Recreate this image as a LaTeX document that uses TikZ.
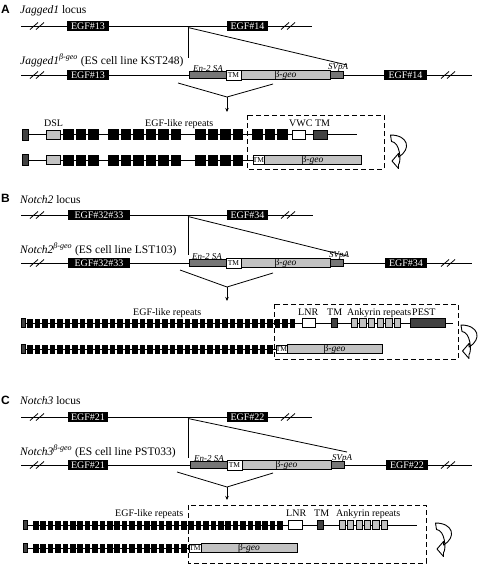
\documentclass[tikz,border=0pt]{standalone}
\usepackage{fontspec}
\setmainfont{Liberation Serif}
\setsansfont{Liberation Sans}
\usetikzlibrary{arrows.meta}
\definecolor{dkgray}{HTML}{424242}
\definecolor{mdgray}{HTML}{767676}
\definecolor{ltgray}{HTML}{C2C2C2}
\newcommand\gbox[7]{\node[#1, minimum width={(#4-#3)*1pt}, minimum height={#6*1pt}] (#2) at ({(#3+#4)/2},#5) {#7};}
\newcommand\brk[2]{\draw[brkline] (#1-7,#2+3.5) -- (#1+1,#2-3.5) (#1-1,#2+3.5) -- (#1+7,#2-3.5);}
\newcommand\reps[6]{\foreach \i in {1,...,#2} {\fill ({#1+(\i-1)*#3},{#5-#6/2}) rectangle ++(#4,#6);}}
\newcommand\curarrow[2]{\begin{scope}[shift={(#1,#2)}]
\draw[fill=white, line width=0.9pt, line join=round] (0.5,0) .. controls (18,0) and (22,14) .. (8.5,22) -- (8.5,18.5) -- (2,26) -- (8.5,33.5) -- (8.5,29.5) .. controls (11.5,26.5) and (10,7) .. (1.5,6.5) -- cycle;
\end{scope}}
\tikzset{
 gl/.style={line width=0.9pt},
 brkline/.style={line width=0.8pt},
 exon/.style={fill=black, text=white, inner sep=0pt, font=\fontsize{10}{10}\selectfont},
 sa/.style={fill=mdgray, draw=black, line width=0.5pt, inner sep=0pt},
 tmw/.style={fill=white, draw=black, line width=0.5pt, inner sep=0pt, font=\fontsize{7.5}{7.5}\selectfont},
 bgeo/.style={fill=ltgray, draw=black, line width=0.5pt, inner sep=0pt, font=\fontsize{9.5}{9.5}\selectfont},
 dk/.style={fill=dkgray, draw=black, line width=0.5pt, inner sep=0pt},
 wt/.style={fill=white, draw=black, line width=0.6pt, inner sep=0pt},
 lt/.style={fill=ltgray, draw=black, line width=0.5pt, inner sep=0pt},
 lab/.style={font=\fontsize{10}{10}\selectfont, inner sep=0pt, anchor=base west},
 ttl/.style={font=\fontsize{11.5}{11.5}\selectfont, inner sep=0pt, anchor=base west},
 letter/.style={font=\sffamily\bfseries\fontsize{12}{12}\selectfont, inner sep=0pt, anchor=base west},
 smallit/.style={font=\itshape\fontsize{9}{9}\selectfont, inner sep=0pt, anchor=base},
 dbox/.style={draw, dash pattern=on 5pt off 3pt, line width=0.8pt},
 vl/.style={line width=0.8pt},
 downarrow/.style={line width=0.8pt, -{Stealth[length=4pt,width=3.5pt]}},
}
\begin{document}
\begin{tikzpicture}[x=1pt,y=-1pt]
\useasboundingbox (0,0) rectangle (480,565);

%%%%%%%%%%%%%%%% PANEL A
\node[letter] (Alet) at (1,13) {A};
\node[ttl] (Atit) at (20,13) {\textit{Jagged1} locus};
\coordinate (A1s) at (21,26); \coordinate (A1e) at (312,26);
\draw[gl] (A1s) -- (A1e);
\brk{37}{26} \brk{288}{26}
\gbox{exon}{A13a}{67}{109}{26}{10}{EGF\#13}
\gbox{exon}{A14a}{227}{268}{26}{10}{EGF\#14}
\coordinate (Ains) at (188,27.5); \coordinate (Avt) at (188,58); \coordinate (Adg) at (347,65);
\draw[vl] (Ains) -- (Avt); \draw[vl] (Ains) -- (Adg);
\node[ttl] (Atit2) at (20,64) {\textit{Jagged1}\textsuperscript{\textit{β-geo}} (ES cell line KST248)};
\coordinate (A2s) at (21,75); \coordinate (A2e) at (472,75);
\draw[gl] (A2s) -- (A2e);
\brk{37}{75} \brk{448}{75}
\gbox{exon}{A13b}{67}{109}{75}{10}{EGF\#13}
\gbox{sa}{Asa}{189}{226}{75}{7}{}
\gbox{tmw}{Atm}{226}{241}{75}{10}{TM}
\gbox{bgeo}{Abg}{241}{330}{75}{9}{β-\textit{geo}}
\gbox{sa}{Asv}{330}{343}{75}{7}{}
\gbox{exon}{A14b}{384}{427}{75}{10}{EGF\#14}
\node[smallit] (Asal) at (208,71) {En-2 SA};
\node[smallit] (Asvl) at (338,69) {SVpA};
\coordinate (Avl) at (178,83); \coordinate (Avr) at (273,84); \coordinate (Avm) at (227,97); \coordinate (Avb) at (227,112);
\draw[vl] (Avl) -- (Avm) -- (Avr);
\draw[downarrow] (Avm) -- (Avb);
% protein rows
\node[lab, anchor=base] (Adsl) at (53.5,126) {DSL};
\node[lab] (Aegf) at (145,126) {EGF-like repeats};
\node[lab] (Avwc) at (289,126) {VWC TM};
\draw[gl] (28,134.5) -- (357,134.5);
\gbox{dk}{Ap1n}{22}{28}{134.5}{11}{}
\gbox{lt}{Ap1dsl}{46}{60}{134.5}{9}{}
\foreach \x in {63,75.5,88,108,120.5,133,145.5,158,170.5,195,207.5,220,232.5,252,264.5,277}
  \fill (\x,129) rectangle ++(10.5,11);
\gbox{wt}{Ap1vwc}{292}{305}{134.5}{9}{}
\gbox{dk}{Ap1tm}{313}{327}{134.5}{9}{}
\draw[gl] (28,160) -- (253,160);
\gbox{dk}{Ap2n}{22}{28}{160}{11}{}
\gbox{lt}{Ap2dsl}{46}{60}{160}{9}{}
\foreach \x in {63,75.5,88,108,120.5,133,145.5,158,170.5,195,207.5,220,232.5}
  \fill (\x,154.5) rectangle ++(10.5,11);
\gbox{tmw}{Ap2tm}{253}{264}{160}{9}{TM}
\gbox{bgeo}{Ap2bg}{264}{361}{160}{9}{β-\textit{geo}}
\draw[dbox] (247,115) rectangle (384,169);
\curarrow{390}{135}

%%%%%%%%%%%%%%%% PANEL B
\node[letter] (Blet) at (1,202) {B};
\node[ttl] (Btit) at (20,203) {\textit{Notch2} locus};
\coordinate (B1s) at (21,215); \coordinate (B1e) at (313,215);
\draw[gl] (B1s) -- (B1e);
\brk{37}{215} \brk{288}{215}
\gbox{exon}{B33a}{68}{130}{215}{10}{EGF\#32\#33}
\gbox{exon}{B34a}{227}{268}{215}{10}{EGF\#34}
\coordinate (Bins) at (188,216.5); \coordinate (Bvt) at (188,255); \coordinate (Bdg) at (347,256);
\draw[vl] (Bins) -- (Bvt); \draw[vl] (Bins) -- (Bdg);
\node[ttl] (Btit2) at (20,253) {\textit{Notch2}\textsuperscript{\textit{β-geo}} (ES cell line LST103)};
\coordinate (B2s) at (21,263); \coordinate (B2e) at (472,263);
\draw[gl] (B2s) -- (B2e);
\brk{37}{263} \brk{448}{263}
\gbox{exon}{B33b}{68}{130}{263}{10}{EGF\#32\#33}
\gbox{sa}{Bsa}{189}{226}{263}{7}{}
\gbox{tmw}{Btm}{226}{241}{263}{10}{TM}
\gbox{bgeo}{Bbg}{241}{330}{263}{9}{β-\textit{geo}}
\gbox{sa}{Bsv}{330}{343}{263}{7}{}
\gbox{exon}{B34b}{385}{427}{263}{10}{EGF\#34}
\node[smallit] (Bsal) at (207,259) {En-2 SA};
\node[smallit] (Bsvl) at (339,257.5) {SVpA};
\coordinate (Bvl) at (180,270); \coordinate (Bvr) at (273,273); \coordinate (Bvm) at (227,287); \coordinate (Bvb) at (227,301);
\draw[vl] (Bvl) -- (Bvm) -- (Bvr);
\draw[downarrow] (Bvm) -- (Bvb);
\node[lab] (Begf) at (133,315) {EGF-like repeats};
\node[lab] (Blnr) at (298,315) {LNR};
\node[lab] (Btml) at (327,315) {TM};
\node[lab] (Bank) at (347,315) {Ankyrin repeats};
\node[lab] (Bpest) at (412,315) {PEST};
\draw[gl] (25,323) -- (453,323);
\gbox{dk}{Bp1n}{21}{25}{323}{9}{}
\reps{27}{36}{7.5}{5.6}{323}{9}
\gbox{wt}{Bp1lnr}{302}{315}{323}{9}{}
\gbox{dk}{Bp1tm}{331}{337}{323}{9}{}
\foreach \i in {0,...,5} \draw[lt] ({351+\i*8.6},318.5) rectangle ++(6.4,9);
\gbox{dk}{Bp1pest}{410}{445}{323}{9}{}
\draw[gl] (25,349) -- (276,349);
\gbox{dk}{Bp2n}{21}{25}{349}{9}{}
\reps{27}{33}{7.5}{5.6}{349}{9}
\gbox{tmw}{Bp2tm}{276}{287}{349}{8.5}{TM}
\gbox{bgeo}{Bp2bg}{287}{382}{349}{8.5}{β-\textit{geo}}
\draw[dbox] (274,304) rectangle (458,359);
\curarrow{460.5}{325}

%%%%%%%%%%%%%%%% PANEL C
\node[letter] (Clet) at (1,404) {C};
\node[ttl] (Ctit) at (20,404) {\textit{Notch3} locus};
\coordinate (C1s) at (21,417); \coordinate (C1e) at (312,417);
\draw[gl] (C1s) -- (C1e);
\brk{37}{417} \brk{288}{417}
\gbox{exon}{C21a}{68}{108}{417}{10}{EGF\#21}
\gbox{exon}{C22a}{227}{268}{417}{10}{EGF\#22}
\coordinate (Cins) at (188,418.5); \coordinate (Cvt) at (188,458); \coordinate (Cdg) at (347,452);
\draw[vl] (Cins) -- (Cvt); \draw[vl] (Cins) -- (Cdg);
\node[ttl] (Ctit2) at (20,455) {\textit{Notch3}\textsuperscript{\textit{β-geo}} (ES cell line PST033)};
\coordinate (C2s) at (21,465); \coordinate (C2e) at (472,465);
\draw[gl] (C2s) -- (C2e);
\brk{37}{465} \brk{448}{465}
\gbox{exon}{C21b}{68}{108}{465}{10}{EGF\#21}
\gbox{sa}{Csa}{190}{227}{465}{7}{}
\gbox{tmw}{Ctm}{227}{242}{465}{10}{TM}
\gbox{bgeo}{Cbg}{242}{331}{465}{9}{β-\textit{geo}}
\gbox{sa}{Csv}{331}{344}{465}{7}{}
\gbox{exon}{C22b}{386}{428}{465}{10}{EGF\#22}
\node[smallit] (Csal) at (209,461) {En-2 SA};
\node[smallit] (Csvl) at (342,460.5) {SVpA};
\coordinate (Cvl) at (177,472); \coordinate (Cvr) at (273,473); \coordinate (Cvm) at (227,487); \coordinate (Cvb) at (227,500);
\draw[vl] (Cvl) -- (Cvm) -- (Cvr);
\draw[downarrow] (Cvm) -- (Cvb);
\node[lab] (Cegf) at (115,516) {EGF-like repeats};
\node[lab] (Clnr) at (286,516) {LNR};
\node[lab] (Ctml) at (314,516) {TM};
\node[lab] (Cank) at (336,516) {Ankyrin repeats};
\draw[gl] (27,525) -- (417,525);
\gbox{dk}{Cp1n}{23}{27}{525}{9}{}
\reps{33}{34}{7.4}{5.6}{525}{9}
\gbox{wt}{Cp1lnr}{288}{302}{525}{9}{}
\gbox{dk}{Cp1tm}{317}{323}{525}{9}{}
\foreach \i in {0,...,5} \draw[lt] ({339+\i*8.4},520.5) rectangle ++(6.2,9);
\draw[gl] (27,548) -- (189,548);
\gbox{dk}{Cp2n}{23}{27}{548}{9}{}
\reps{33}{21}{7.4}{5.6}{548}{9}
\gbox{tmw}{Cp2tm}{189}{201}{548}{8.5}{TM}
\gbox{bgeo}{Cp2bg}{201}{297}{548}{8.5}{β-\textit{geo}}
\draw[dbox] (188,505) rectangle (426,563);
\curarrow{435}{523}
\end{tikzpicture}
\end{document}
